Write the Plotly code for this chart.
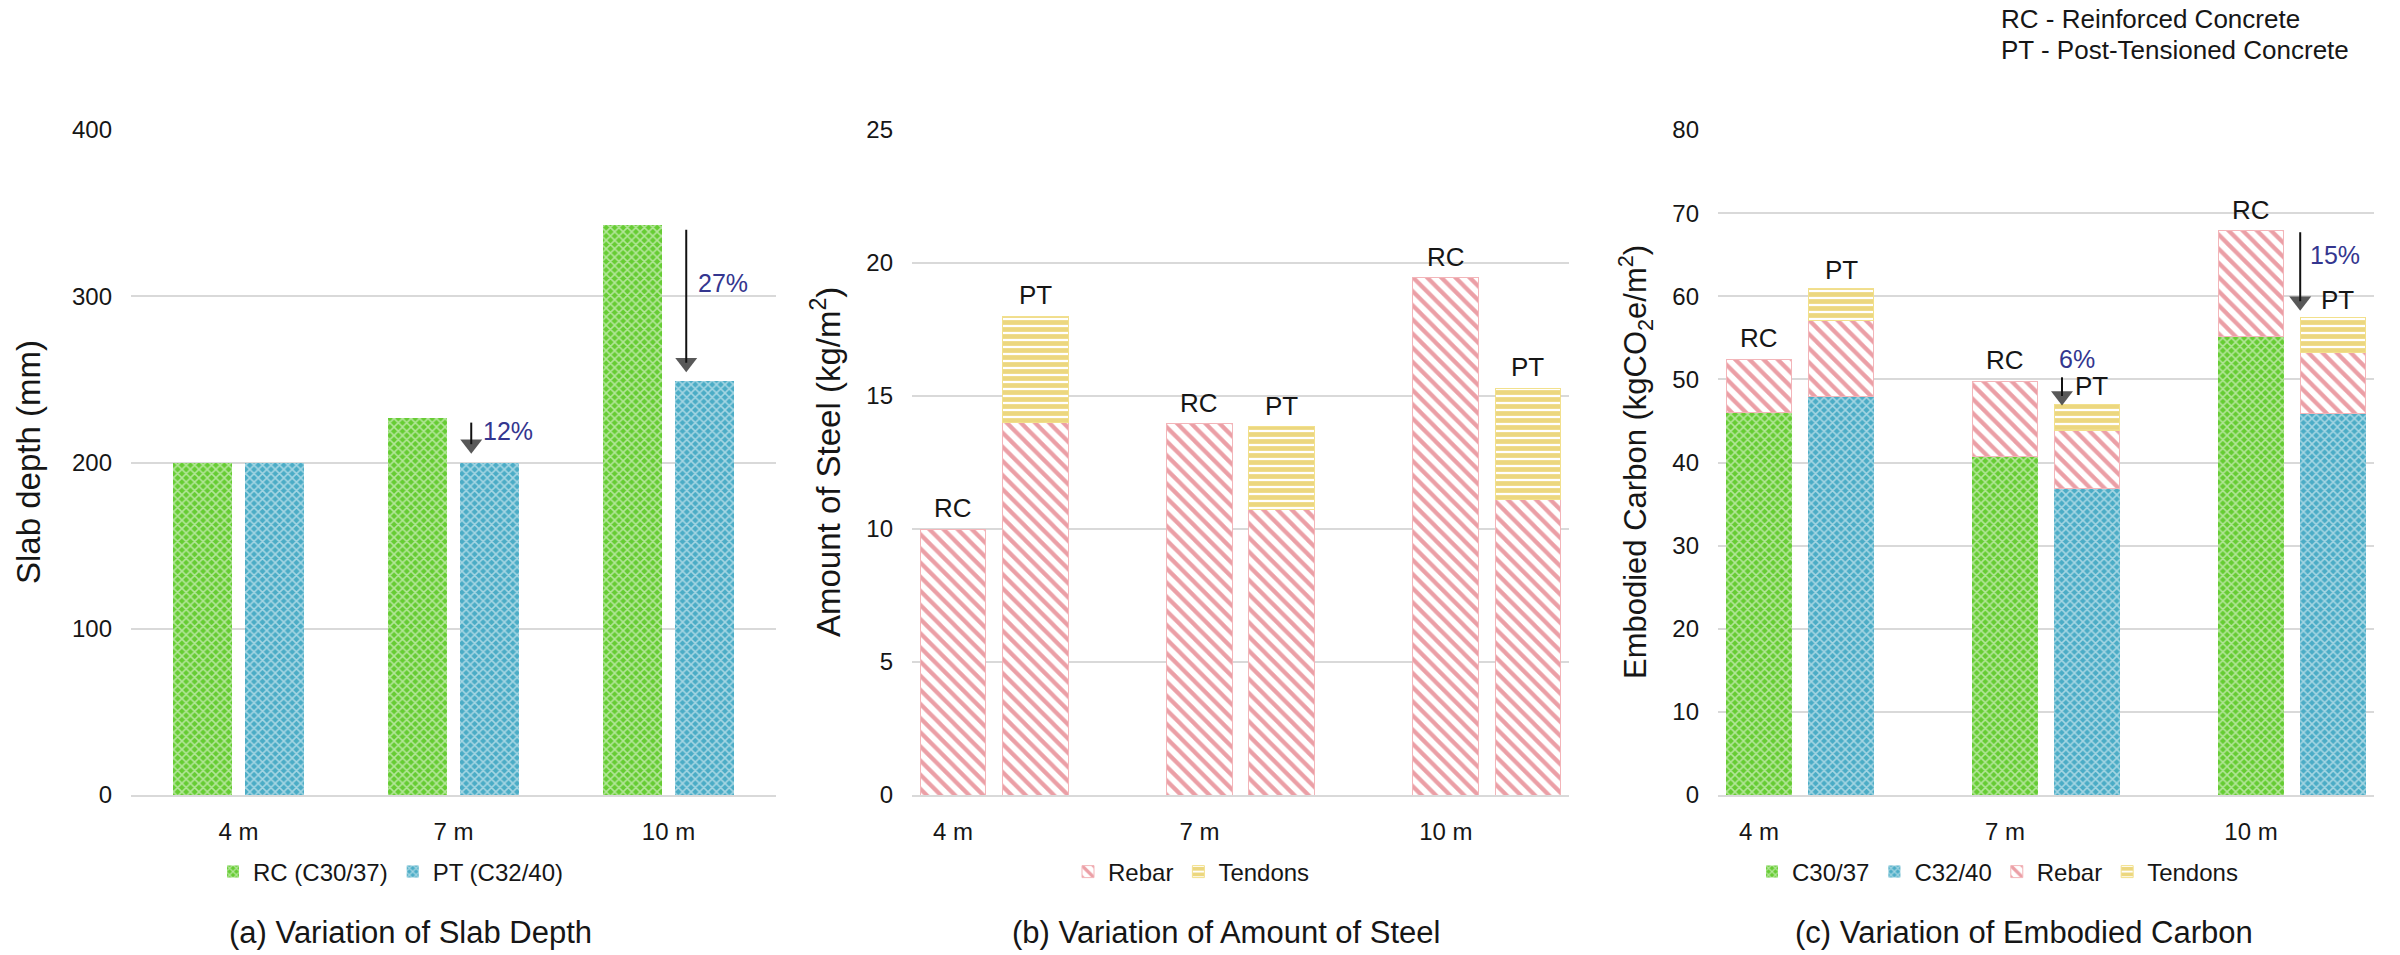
import plotly.graph_objects as go

FONT = "Liberation Sans, Arial, Helvetica, sans-serif"
TXT = "#161616"
BLUE = "#34368F"
GREEN = "#66CC33"
TEAL = "#4BACC6"
RED = "#D8404D"
GOLD = "#DAB000"
GRID = "#D9D9D9"

# ---------------- data ----------------
spans = ["4 m", "7 m", "10 m"]

# (a) slab depth (mm)
depth_rc = [200, 227, 343]
depth_pt = [200, 200, 249]
depth_cut = ["", "12%", "27%"]

# (b) amount of steel (kg/m2)
steel_rc_rebar = [10.0, 13.95, 19.45]
steel_pt_rebar = [14.0, 10.75, 11.1]
steel_pt_tendons = [4.0, 3.1, 4.2]

# (c) embodied carbon (kgCO2e/m2)
carbon_rc_concrete = [46.0, 40.7, 55.2]
carbon_rc_rebar = [6.45, 9.05, 12.7]
carbon_pt_concrete = [48.0, 36.9, 45.9]
carbon_pt_rebar = [9.1, 6.9, 7.3]
carbon_pt_tendons = [3.85, 3.2, 4.2]
carbon_cut = ["", "6%", "15%"]

# ---------------- positions ----------------
idx = list(range(len(spans)))
a_rc_x = [i - 0.1675 for i in idx]
a_pt_x = [i + 0.1675 for i in idx]
bc_rc_x = [3 * i for i in idx]
bc_pt_x = [3 * i + 1 for i in idx]


def pat(shape, fg, bg, size, sol):
    return dict(shape=shape, fgcolor=fg, bgcolor=bg, size=size, solidity=sol)


mk_green = dict(color=GREEN, pattern=pat("x", "white", GREEN, 6, 0.45), line=dict(width=0))
mk_teal = dict(color=TEAL, pattern=pat("x", "white", TEAL, 6, 0.45), line=dict(width=0))
mk_rebar = dict(color="white", pattern=pat("\\", RED, "white", 10, 0.42), line=dict(width=1, color="#F3B5B9"))
mk_tend = dict(color="white", pattern=pat("-", GOLD, "white", 7, 0.68), line=dict(width=1, color="#F2E08C"))

fig = go.Figure()

# panel (a)
fig.add_trace(go.Bar(x=a_rc_x, y=depth_rc, width=0.27, name="RC (C30/37)", marker=mk_green,
                     xaxis="x", yaxis="y", legend="legend"))
fig.add_trace(go.Bar(x=a_pt_x, y=depth_pt, width=0.27, name="PT (C32/40)", marker=mk_teal,
                     xaxis="x", yaxis="y", legend="legend"))

# panel (b)
fig.add_trace(go.Bar(x=bc_rc_x + bc_pt_x, y=steel_rc_rebar + steel_pt_rebar, width=0.8, name="Rebar",
                     marker=mk_rebar, xaxis="x2", yaxis="y2", legend="legend2"))
fig.add_trace(go.Bar(x=bc_pt_x, y=steel_pt_tendons, width=0.8, name="Tendons",
                     marker=mk_tend, xaxis="x2", yaxis="y2", legend="legend2"))

# panel (c)
fig.add_trace(go.Bar(x=bc_rc_x, y=carbon_rc_concrete, width=0.8, name="C30/37", marker=mk_green,
                     xaxis="x3", yaxis="y3", legend="legend3"))
fig.add_trace(go.Bar(x=bc_pt_x, y=carbon_pt_concrete, width=0.8, name="C32/40", marker=mk_teal,
                     xaxis="x3", yaxis="y3", legend="legend3"))
fig.add_trace(go.Bar(x=bc_rc_x + bc_pt_x, y=carbon_rc_rebar + carbon_pt_rebar, width=0.8, name="Rebar",
                     marker=mk_rebar, xaxis="x3", yaxis="y3", legend="legend3"))
fig.add_trace(go.Bar(x=bc_pt_x, y=carbon_pt_tendons, width=0.8, name="Tendons",
                     marker=mk_tend, xaxis="x3", yaxis="y3", legend="legend3"))

ann = []
lab_font = dict(family=FONT, size=26, color=TXT)
pct_font = dict(family=FONT, size=25, color=BLUE)

steel_rc_tot = steel_rc_rebar
steel_pt_tot = [r + t for r, t in zip(steel_pt_rebar, steel_pt_tendons)]
carbon_rc_tot = [c + r for c, r in zip(carbon_rc_concrete, carbon_rc_rebar)]
carbon_pt_tot = [c + r + t for c, r, t in zip(carbon_pt_concrete, carbon_pt_rebar, carbon_pt_tendons)]

for i in idx:
    ann.append(dict(x=bc_rc_x[i], y=steel_rc_tot[i], xref="x2", yref="y2", text="RC", showarrow=False,
                    yanchor="bottom", yshift=4, font=lab_font))
    ann.append(dict(x=bc_pt_x[i], y=steel_pt_tot[i], xref="x2", yref="y2", text="PT", showarrow=False,
                    yanchor="bottom", yshift=4, font=lab_font))
    ann.append(dict(x=bc_rc_x[i], y=carbon_rc_tot[i], xref="x3", yref="y3", text="RC", showarrow=False,
                    yanchor="bottom", yshift=4, font=lab_font))
    ann.append(dict(x=bc_pt_x[i], y=carbon_pt_tot[i], xref="x3", yref="y3", text="PT", showarrow=False,
                    yanchor="bottom", yshift=1, xshift=(4 if carbon_cut[i] else 0), font=lab_font))


def arrow(xa, tail, head, xr, yr):
    return go.Scatter(x=[xa, xa], y=[tail, head], mode="lines+markers", xaxis=xr, yaxis=yr,
                      line=dict(color="#111111", width=2),
                      marker=dict(symbol="triangle-down", size=[0, 19], color="#111111", line=dict(width=0)),
                      showlegend=False, hoverinfo="skip")


# (a) reduction arrows
for i in idx:
    if not depth_cut[i]:
        continue
    xa = a_pt_x[i] - 0.085
    head = depth_pt[i] + 11
    tail = depth_rc[i] - 3
    fig.add_trace(arrow(xa, tail, head, "x", "y"))
    ann.append(dict(x=xa, y=tail - 0.4 * (tail - head), xref="x", yref="y", text=depth_cut[i],
                    showarrow=False, xanchor="left", xshift=10, font=pct_font))

# (c) reduction arrows
c_arrow_dx = [0, -0.305, -0.4]
c_head_pad = [0, 1.0, 2.0]
c_tail_pad = [0, 0.5, -0.2]
for i in idx:
    if not carbon_cut[i]:
        continue
    xa = bc_pt_x[i] + c_arrow_dx[i]
    head = carbon_pt_tot[i] + c_head_pad[i]
    tail = carbon_rc_tot[i] + c_tail_pad[i]
    fig.add_trace(arrow(xa, tail, head, "x3", "y3"))
    if i == 1:
        ann.append(dict(x=bc_pt_x[i] - 0.12, y=tail, xref="x3", yref="y3", text=carbon_cut[i],
                        showarrow=False, xanchor="center", yanchor="bottom", yshift=2, font=pct_font))
    else:
        ann.append(dict(x=xa, y=tail - 0.33 * (tail - head), xref="x3", yref="y3", text=carbon_cut[i],
                        showarrow=False, xanchor="left", xshift=8, font=pct_font))

# axis titles
for xp, t, fs in [(28, "Slab depth (mm)", 33), (826, "Amount of Steel (kg/m<sup>2</sup>)", 33),
                  (1635, "Embodied Carbon (kgCO<sub>2</sub>e/m<sup>2</sup>)", 31)]:
    ann.append(dict(x=xp / 2400, y=(955 - 462) / 955, xref="paper", yref="paper", text=t, textangle=-90,
                    showarrow=False, xanchor="center", yanchor="middle",
                    font=dict(family=FONT, size=fs, color=TXT)))

# sub-captions
tfont = dict(family=FONT, size=31, color=TXT)
for xp, t in [(410, "(a) Variation of Slab Depth"), (1226, "(b) Variation of Amount of Steel"),
              (2024, "(c) Variation of Embodied Carbon")]:
    ann.append(dict(x=xp / 2400, y=(955 - 932) / 955, xref="paper", yref="paper", text=t,
                    showarrow=False, xanchor="center", yanchor="middle", font=tfont))

# abbreviation key
nfont = dict(family=FONT, size=26, color=TXT)
ann.append(dict(x=1999 / 2400, y=(955 - 19) / 955, xref="paper", yref="paper", text="RC - Reinforced Concrete",
                showarrow=False, xanchor="left", yanchor="middle", font=nfont))
ann.append(dict(x=1999 / 2400, y=(955 - 50) / 955, xref="paper", yref="paper",
                text="PT - Post-Tensioned Concrete",
                showarrow=False, xanchor="left", yanchor="middle", font=nfont))

ydom = [160 / 955, 825 / 955]
tickf = dict(family=FONT, size=24, color=TXT)


def xax(dom, rng, tv, anchor):
    return dict(domain=dom, range=rng, tickvals=tv, ticktext=spans, showgrid=False, zeroline=False,
                showline=True, linecolor=GRID, linewidth=2, ticks="", tickfont=tickf,
                ticklabelstandoff=14, anchor=anchor, fixedrange=True, automargin=False)


def yax(rng, dt, anchor):
    return dict(domain=ydom, range=rng, dtick=dt, showgrid=True, gridcolor=GRID, gridwidth=1.5,
                zeroline=False, showline=False, ticks="", tickfont=tickf, ticklabelstandoff=18,
                anchor=anchor, fixedrange=True, automargin=False)


leg_font = dict(family=FONT, size=24, color=TXT)
legy = (955 - 872) / 955


def leg(x):
    return dict(orientation="h", x=x / 2400, y=legy, xanchor="left", yanchor="middle", font=leg_font,
                bgcolor="rgba(0,0,0,0)", traceorder="normal")


fig.update_layout(
    width=2400, height=955, autosize=False,
    margin=dict(l=0, r=0, t=0, b=0, pad=0, autoexpand=False),
    paper_bgcolor="white", plot_bgcolor="white",
    barmode="stack",
    font=dict(family=FONT, color=TXT),
    xaxis=xax([131 / 2400, 776 / 2400], [-0.5, 2.5], idx, "y"),
    xaxis2=xax([912 / 2400, 1569 / 2400], [-0.5, 7.5], bc_rc_x, "y2"),
    xaxis3=xax([1718 / 2400, 2374 / 2400], [-0.5, 7.5], bc_rc_x, "y3"),
    yaxis=yax([0, 400], 100, "x"),
    yaxis2=yax([0, 25], 5, "x2"),
    yaxis3=yax([0, 80], 10, "x3"),
    legend=leg(213),
    legend2=leg(1068),
    legend3=leg(1752),
    annotations=ann,
)

fig.write_html("out.html")
